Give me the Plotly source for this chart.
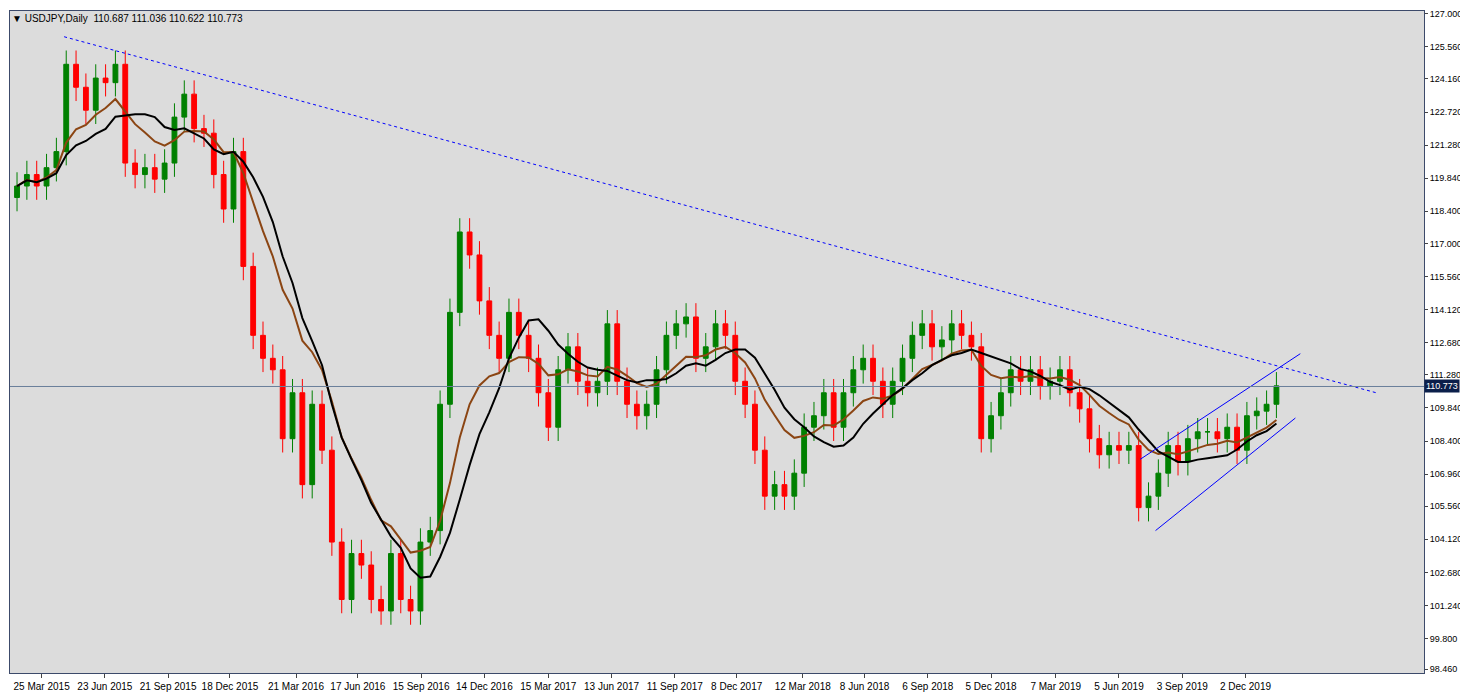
import pandas as pd
import plotly.graph_objects as go

# biweekly estimated closes
start = '2015-02-18'
closes = [119.5, 120.0, 119.5, 120.3, 121.0, 124.8, 123.8, 122.8, 124.2, 124.0,
          124.8, 120.5, 120.0, 120.3, 119.8, 120.5, 122.5, 123.5, 122.0, 121.8,
          120.0, 118.5, 121.0, 116.0, 113.0, 112.0, 111.5, 108.5, 110.5, 106.5,
          110.0, 108.0, 104.0, 101.5, 103.5, 103.0, 101.5, 101.0, 103.5, 101.5,
          101.0, 104.0, 104.5, 110.0, 114.0, 117.5, 116.5, 114.5, 113.0, 112.0,
          114.0, 113.0, 112.0, 110.5, 109.0, 111.5, 112.5, 111.0, 110.5, 111.0,
          113.5, 111.0, 110.0, 109.5, 110.0, 111.5, 113.0, 113.5, 113.8, 112.0,
          112.5, 113.5, 113.0, 111.0, 110.0, 108.0, 106.0, 106.5, 106.0, 107.0,
          109.0, 109.5, 110.5, 109.0, 110.5, 111.5, 112.0, 111.0, 110.0, 111.0,
          112.0, 113.0, 113.5, 112.5, 112.8, 113.5, 113.0, 112.5, 108.5, 109.5,
          110.5, 111.5, 111.0, 111.5, 110.8, 111.0, 111.5, 110.5, 109.8, 108.5,
          107.8, 108.2, 108.0, 108.2, 105.5, 106.0, 107.0, 108.2, 107.5, 108.5,
          108.8, 108.8, 108.5, 109.0, 108.0, 109.5, 109.7, 110.0, 110.8]
first_open = 119.0

trend_x = ['2015-04-26', '2020-06-05']
trend_y = [126.0, 110.5]
chan_up_x = ['2019-07-05', '2020-02-18']
chan_up_y = [107.6, 112.2]
chan_lo_x = ['2019-07-27', '2020-02-11']
chan_lo_y = [104.5, 109.4]
last_price = 110.773

ytick_vals = [127.0, 125.56, 124.16, 122.72, 121.28, 119.84, 118.40, 117.0, 115.56,
              114.12, 112.68, 111.28, 109.84, 108.40, 106.96, 105.56, 104.12,
              102.68, 101.24, 99.80, 98.46]
xtick_text = ['25 Mar 2015', '23 Jun 2015', '21 Sep 2015', '18 Dec 2015', '21 Mar 2016',
              '17 Jun 2016', '15 Sep 2016', '14 Dec 2016', '15 Mar 2017', '13 Jun 2017',
              '11 Sep 2017', '8 Dec 2017', '12 Mar 2018', '8 Jun 2018', '6 Sep 2018',
              '5 Dec 2018', '7 Mar 2019', '5 Jun 2019', '3 Sep 2019', '2 Dec 2019']

dates = pd.date_range(start, periods=len(closes), freq='14D')
df = pd.DataFrame({'close': closes}, index=dates)
df['open'] = df['close'].shift(1).fillna(first_open)
df['high'] = df[['open', 'close']].max(axis=1) + 0.6
df['low'] = df[['open', 'close']].min(axis=1) - 0.6
sma = df['close'].rolling(10, min_periods=1).mean()
ema = df['close'].ewm(span=10).mean()

fig = go.Figure()
fig.add_trace(go.Candlestick(x=dates, open=df['open'], high=df['high'], low=df['low'],
                             close=df['close'],
                             increasing=dict(line=dict(color='#008000', width=1), fillcolor='#008000'),
                             decreasing=dict(line=dict(color='#ff0000', width=1), fillcolor='#ff0000'),
                             whiskerwidth=0))
fig.add_trace(go.Scatter(x=dates, y=ema, mode='lines', line=dict(color='#8b4513', width=2)))
fig.add_trace(go.Scatter(x=dates, y=sma, mode='lines', line=dict(color='black', width=2)))
fig.add_trace(go.Scatter(x=trend_x, y=trend_y, mode='lines', line=dict(color='blue', width=1, dash='dot')))
fig.add_trace(go.Scatter(x=chan_up_x, y=chan_up_y, mode='lines', line=dict(color='blue', width=1)))
fig.add_trace(go.Scatter(x=chan_lo_x, y=chan_lo_y, mode='lines', line=dict(color='blue', width=1)))
fig.add_hline(y=last_price, line=dict(color='#6a7f9a', width=1))

xtick_vals = pd.to_datetime(xtick_text, format='%d %b %Y')
fig.update_xaxes(range=['2015-02-08', '2020-08-12'], tickvals=xtick_vals, ticktext=xtick_text,
                 tickangle=0, rangeslider_visible=False, showgrid=False, ticks='outside', ticklen=4,
                 showline=True, linecolor='#3c4a6a', mirror=True, zeroline=False,
                 tickfont=dict(size=10, color='black', family='Liberation Sans'))
fig.update_yaxes(side='right', range=[98.3, 127.12], tickvals=ytick_vals,
                 ticktext=['%.3f' % v for v in ytick_vals], showgrid=False, ticks='outside',
                 ticklen=3, showline=True, linecolor='#3c4a6a', mirror=True, zeroline=False,
                 tickfont=dict(size=9, color='black', family='Liberation Sans'))
fig.add_annotation(x=1, xref='paper', xanchor='left', y=last_price, yref='y',
                   text='%.3f' % last_price, showarrow=False, bgcolor='#0b1f4a',
                   font=dict(size=9, color='white', family='Liberation Sans'), borderpad=1)
fig.add_annotation(x=0, xref='paper', xanchor='left', y=1, yref='paper', yanchor='top',
                   text='▼ USDJPY,Daily  110.687 111.036 110.622 110.773', showarrow=False,
                   font=dict(size=10, color='black', family='Liberation Sans'))
fig.update_layout(width=1468, height=692, showlegend=False, plot_bgcolor='#dcdcdc',
                  paper_bgcolor='white', margin=dict(l=2, r=52, t=3, b=27),
                  font=dict(family='Liberation Sans'))
fig.write_html('out.html')
